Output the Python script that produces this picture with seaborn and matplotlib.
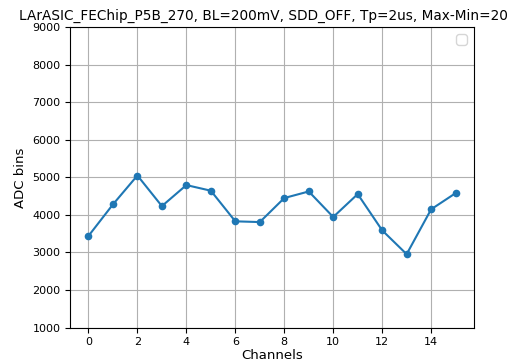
import matplotlib
matplotlib.use("Agg")
import matplotlib.pyplot as plt
import seaborn as sns
import pandas as pd

channels = list(range(16))
adc_values = [3440, 4280, 5050, 4235, 4795, 4645, 3830, 3810,
              4450, 4625, 3945, 4555, 3590, 2955, 4150, 4580]
title_text = "LArASIC_FEChip_P5B_270, BL=200mV, SDD_OFF, Tp=2us, Max-Min=2095"
x_ticks = [0, 2, 4, 6, 8, 10, 12, 14]
y_ticks = [1000, 2000, 3000, 4000, 5000, 6000, 7000, 8000, 9000]

df = pd.DataFrame({"Channels": channels, "ADC bins": adc_values})

fig = plt.figure(figsize=(5.08, 3.62), dpi=100)
ax = fig.add_axes([0.138, 0.095, 0.795, 0.83])
sns.lineplot(data=df, x="Channels", y="ADC bins", marker="o", color="#1f77b4",
             markersize=5.5, markeredgewidth=0, linewidth=1.5, ax=ax)
ax.set_ylim(1000, 9000)
ax.set_xlim(-0.75, 15.75)
ax.set_xticks(x_ticks)
ax.set_yticks(y_ticks)
ax.grid(True, color="#b0b0b0", linewidth=0.8)
ax.tick_params(labelsize=8)
ax.set_xlabel("Channels", fontsize=9.5, labelpad=1)
ax.set_ylabel("ADC bins", fontsize=9.5)
ax.set_title(title_text, fontsize=9.8, pad=5)
leg = ax.legend(handles=[], loc="upper right")
fig.savefig("out.png", dpi=100)
